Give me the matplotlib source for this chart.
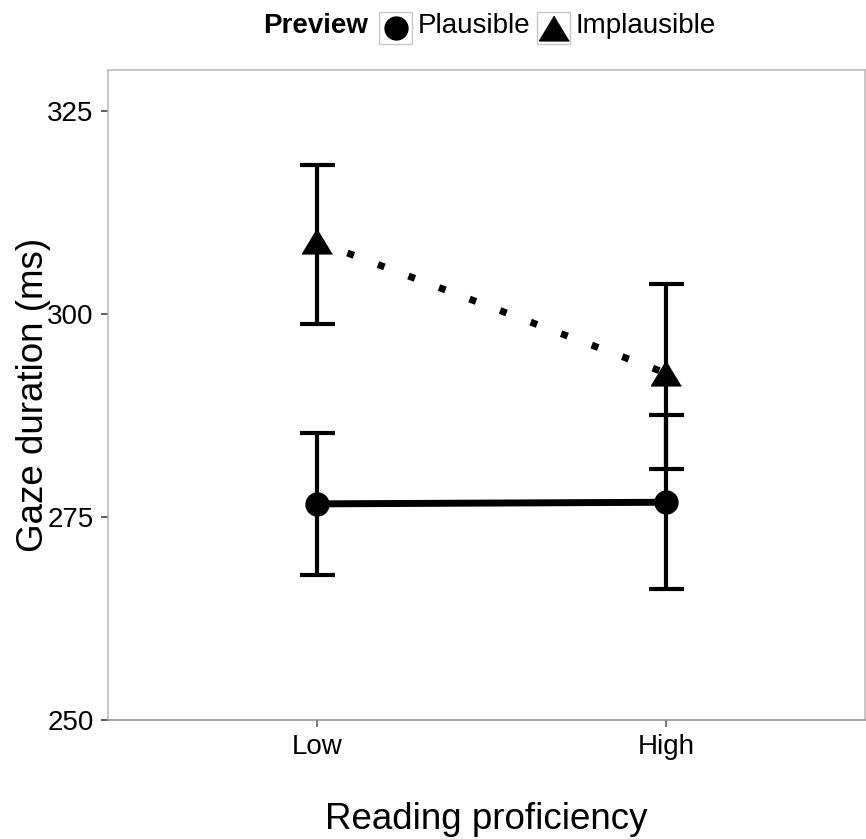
import numpy as np
import matplotlib.pyplot as plt
from matplotlib.patches import Rectangle
from matplotlib.lines import Line2D

plt.rcParams['font.family'] = ['Liberation Sans', 'DejaVu Sans']

# data
levels = ["Low", "High"]
plaus_mean = [276.6, 276.8]
plaus_lo = [267.9, 266.1]
plaus_hi = [285.3, 287.6]
implaus_mean = [308.9, 292.7]
implaus_lo = [298.8, 280.9]
implaus_hi = [318.3, 303.7]
y_ticks = [250, 275, 300, 325]

W, H = 866, 839
fig = plt.figure(figsize=(W / 100, H / 100), dpi=100)

def fx(px):
    return px / W

def fy(py):
    return 1 - py / H

ax = fig.add_axes([fx(107.5), fy(720), fx(865) - fx(107.5), fy(70) - fy(720)])

x = np.arange(1, len(levels) + 1)
tri = [(0, 0.83), (-1, -0.83), (1, -0.83)]

# mean lines
ax.plot(x, plaus_mean, color="black", lw=5, solid_capstyle="butt", zorder=2)
ax.plot(x, implaus_mean, color="black", lw=5, linestyle=(0, (1, 3.7)),
        dash_capstyle="butt", zorder=2)

# error bars
for mean, lo, hi in [(plaus_mean, plaus_lo, plaus_hi),
                     (implaus_mean, implaus_lo, implaus_hi)]:
    mean = np.array(mean)
    err = [mean - np.array(lo), np.array(hi) - mean]
    ax.errorbar(x, mean, yerr=err, fmt="none", ecolor="black",
                elinewidth=3, capsize=12.6, capthick=3, zorder=3)

# points
ax.plot(x, plaus_mean, "o", color="black", markersize=16.5, zorder=4)
ax.plot(x, implaus_mean, marker=tri, linestyle="none", color="black",
        markersize=21.5, zorder=4)

ax.set_xlim(0.4, 2.571)
ax.set_ylim(250, 330)
ax.set_xticks(x)
ax.set_xticklabels(levels)
ax.set_yticks(y_ticks)
ax.tick_params(axis="both", labelsize=20, length=5, width=1.1,
               color="#333333", pad=5)
ax.tick_params(axis="x", color="#555555")
for s in ax.spines.values():
    s.set_color("#b8b8b8")
    s.set_linewidth(1.1)
ax.spines["bottom"].set_color("#8c8c8c")

ax.set_xlabel("Reading proficiency", fontsize=26.5, labelpad=30)
ax.set_ylabel("Gaze duration (ms)", fontsize=26.5, labelpad=-3)

# legend drawn on top of the panel
fig.text(fx(263), fy(33), "Preview", fontsize=20, fontweight="bold",
         va="baseline", ha="left")
keys = [(379, "o", 16.5, "Plausible", 418),
        (537, tri, 21.5, "Implausible", 575)]
for kx, mk, ms, label, tx in keys:
    fig.add_artist(Rectangle((fx(kx), fy(44)), fx(33), fy(12) - fy(44),
                             transform=fig.transFigure, facecolor="white",
                             edgecolor="#c8c8c8", lw=1))
    fig.add_artist(Line2D([fx(kx + 16.5)], [fy(28)], marker=mk,
                          markersize=ms, color="black", linestyle="none",
                          transform=fig.transFigure))
    fig.text(fx(tx), fy(33), label, fontsize=20, va="baseline", ha="left")

fig.savefig("out.png", dpi=100)
